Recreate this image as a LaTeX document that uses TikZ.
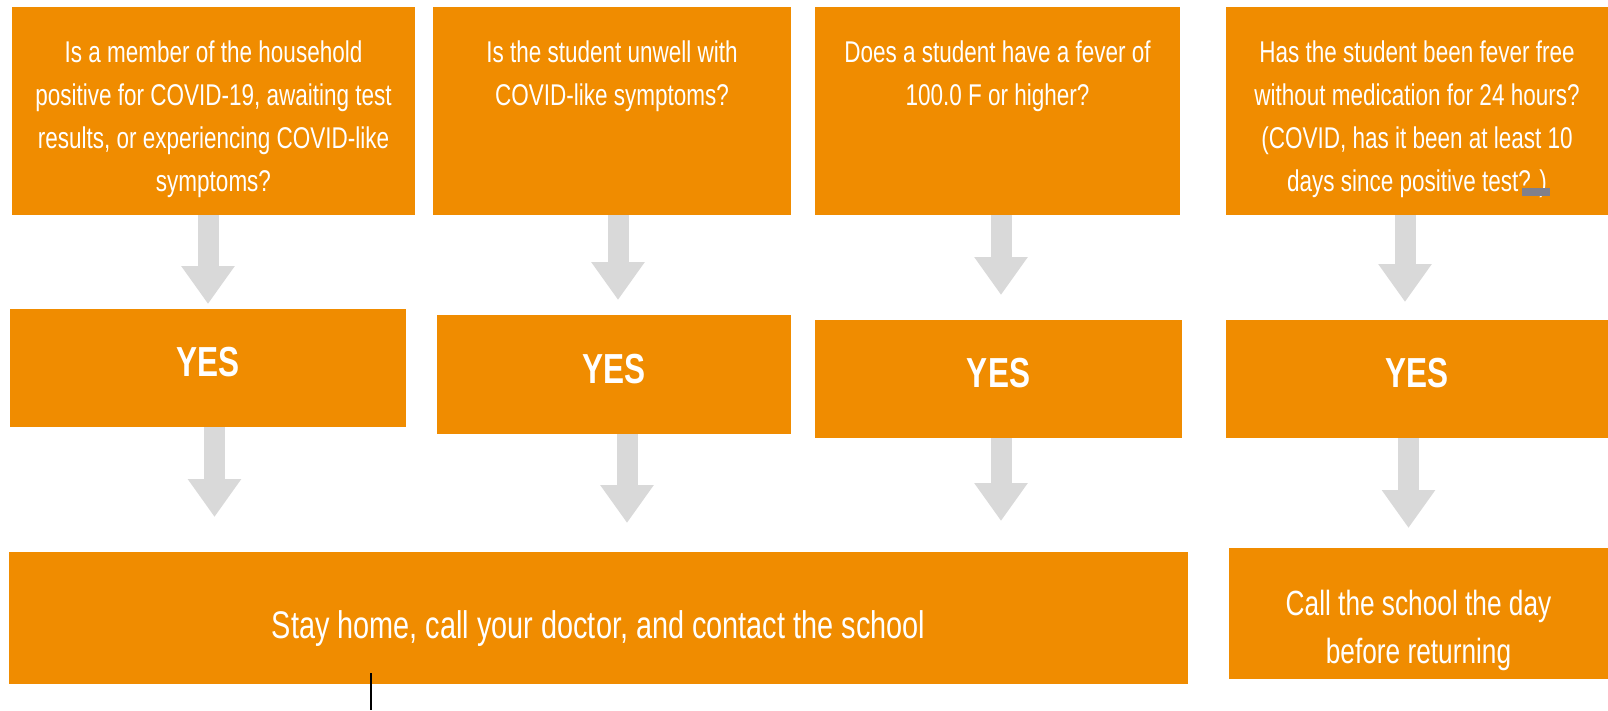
\documentclass[tikz,border=0pt]{standalone}
\usepackage{fontspec}
\setmainfont{Liberation Sans}[FakeStretch=0.75]
\usetikzlibrary{arrows.meta}
\definecolor{orng}{HTML}{F08C00}
\definecolor{arrgrey}{HTML}{D9D9D9}
\definecolor{artgrey}{HTML}{80808C}
\newcommand{\qtxt}[3]{\parbox[c][#2][t]{#1}{\centering\fontsize{30pt}{43pt}\selectfont\vspace*{30pt}\rule{0pt}{25pt}#3\par}}
\begin{document}
\begin{tikzpicture}[x=1pt,y=-1pt,
  box/.style={fill=orng, draw=none, inner sep=0pt, outer sep=0pt, text=white, anchor=north west},
  yesbox/.style={box, font=\fontsize{42pt}{50pt}\selectfont\bfseries, text depth=12pt},
  flow/.style={draw=arrgrey, line width=21pt, -{Triangle[width=51pt,length=38pt]}},
]
\useasboundingbox (0,0) rectangle (1608,710);

% question boxes
\node[box] (q1) at (12,7) {\qtxt{403pt}{208pt}{Is a member of the household\\positive for COVID-19, awaiting test\\results, or experiencing COVID-like\\symptoms?}};
\node[box] (q2) at (433,7) {\qtxt{358pt}{208pt}{Is the student unwell with\\COVID-like symptoms?}};
\node[box] (q3) at (815,7) {\qtxt{365pt}{208pt}{Does a student have a fever of\\100.0 F or higher?}};
\node[box] (q4) at (1226,7) {\qtxt{382pt}{208pt}{Has the student been fever free\\without medication for 24 hours?\\(COVID, has it been at least 10\\days since positive test? )}};

% YES boxes
\node[yesbox, minimum width=396pt, minimum height=118pt] (y1) at (10,309) {YES};
\node[yesbox, minimum width=354pt, minimum height=119pt] (y2) at (437,315) {YES};
\node[yesbox, minimum width=367pt, minimum height=118pt] (y3) at (815,320) {YES};
\node[yesbox, minimum width=382pt, minimum height=118pt] (y4) at (1226,320) {YES};

% outcome boxes
\node[box] (stay) at (9,552) {\parbox[c][132pt][t]{1179pt}{\centering\fontsize{38.5pt}{46pt}\selectfont\vspace*{54pt}\rule{0pt}{32pt}Stay home, call your doctor, and contact the school\par}};
\node[box] (call) at (1229,548) {\parbox[c][131pt][t]{379pt}{\centering\fontsize{35pt}{48pt}\selectfont\vspace*{37pt}\rule{0pt}{30pt}Call the school the day\\before returning\par}};

% arrows
\path ([xshift=-5.5pt]q1.south) coordinate (a1) ([xshift=6.5pt]y1.south) coordinate (b1)
      ([xshift=6pt]q2.south) coordinate (a2) ([xshift=13pt]y2.south) coordinate (b2)
      ([xshift=3.5pt]q3.south) coordinate (a3) ([xshift=2.5pt]y3.south) coordinate (b3)
      ([xshift=-12pt]q4.south) coordinate (a4) ([xshift=-8.5pt]y4.south) coordinate (b4);
\draw[flow, shorten >=5pt] (a1) -- (a1 |- y1.north);
\draw[flow, shorten >=35pt] (b1) -- (b1 |- stay.north);
\draw[flow, shorten >=15pt] (a2) -- (a2 |- y2.north);
\draw[flow, shorten >=29pt] (b2) -- (b2 |- stay.north);
\draw[flow, shorten >=25pt] (a3) -- (a3 |- y3.north);
\draw[flow, shorten >=31pt] (b3) -- (b3 |- stay.north);
\draw[flow, shorten >=18pt] (a4) -- (a4 |- y4.north);
\draw[flow, shorten >=20pt] (b4) -- (b4 |- call.north);

% small marks
\fill[artgrey] (1522,188) rectangle (1550,196);
\coordinate (lt) at (371,673);
\coordinate (lb) at (371,710);
\draw[black, line width=1.2pt] (lt) -- (lb);
\end{tikzpicture}
\end{document}
